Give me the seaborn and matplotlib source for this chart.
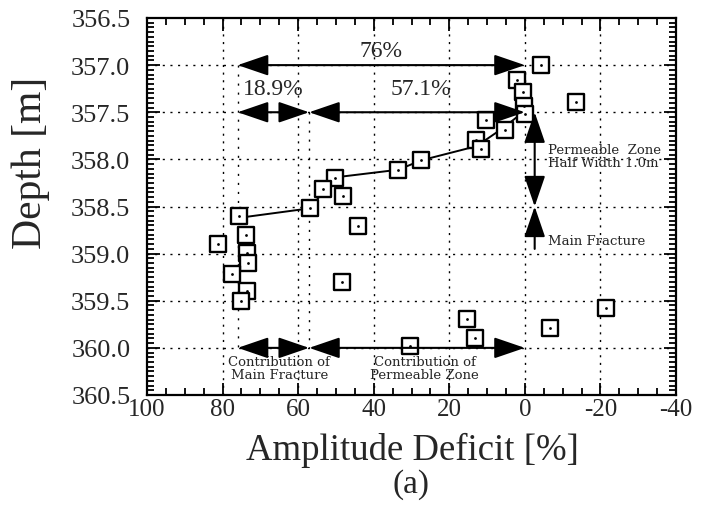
import numpy as np
import pandas as pd
import matplotlib
matplotlib.use("Agg")
import matplotlib.pyplot as plt
import seaborn as sns
from matplotlib.ticker import MultipleLocator

# ---- data ----
amp = [-4.2, 2.2, 0.5, 0.2, 0.0, -13.6, 10.2, 5.3, 12.8, 11.5, 27.4, 33.5,
       50.2, 53.5, 48.1, 44.1, 56.9, 75.6, 73.8, 81.1, 73.5, 73.2, 77.4,
       73.5, 75.0, 48.5, 30.5, 15.2, 13.3, -6.6, -21.4]
depth = [357.0, 357.16, 357.28, 357.43, 357.52, 357.39, 357.58, 357.69,
         357.79, 357.89, 358.01, 358.11, 358.2, 358.31, 358.39, 358.71,
         358.52, 358.6, 358.8, 358.9, 358.99, 359.1, 359.22, 359.4, 359.5,
         359.3, 359.98, 359.69, 359.89, 359.79, 359.58]
fit_amp = [75.6, 57.0, 50.0, 33.5, 27.4, 12.8, 5.5, -0.4]
fit_depth = [358.62, 358.52, 358.19, 358.11, 358.01, 357.86, 357.66, 357.47]

xticks = [100, 80, 60, 40, 20, 0, -20, -40]
yticks = [356.5, 357.0, 357.5, 358.0, 358.5, 359.0, 359.5, 360.0, 360.5]

total_pct = 76.0
main_pct = 57.1
pz_top, mf_depth = 357.5, 358.5

df = pd.DataFrame({"amp": amp, "depth": depth})
fit = pd.DataFrame({"amp": fit_amp, "depth": fit_depth})

sns.set_style("ticks")
plt.rcParams["font.family"] = ["Liberation Serif", "DejaVu Serif"]

fig = plt.figure(figsize=(7.11, 5.10), dpi=100)
ax = fig.add_axes([147/711, 1-396/510, (676-147)/711, (396-19)/510])

# grid
for xv in xticks[1:-1]:
    ax.axvline(xv, color="black", lw=1.0, ls=(0, (1.5, 4)), zorder=1)
for yv in yticks[1:-1]:
    ax.axhline(yv, color="black", lw=1.0, ls=(0, (1.5, 4)), zorder=1)
ax.plot([total_pct, total_pct], [357.0, 360.0], color="black", lw=1.0, ls=(0, (1.5, 5)), zorder=1)
ax.plot([main_pct, main_pct], [357.5, 360.0], color="black", lw=1.0, ls=(0, (1.5, 5)), zorder=1)

sns.lineplot(data=fit, x="amp", y="depth", sort=False, color="black", lw=1.4, ax=ax, zorder=3)
sns.scatterplot(data=df, x="amp", y="depth", marker="s", s=125, ax=ax,
                linewidth=1.7, edgecolor="black", zorder=4)
ax.collections[-1].set_facecolor("white")
sns.scatterplot(data=df, x="amp", y="depth", marker="o", s=4, color="black",
                linewidth=0, ax=ax, zorder=5)

def arrow(x0, y0, x1, y1, style="<|-|>"):
    ax.annotate("", xy=(x1, y1), xytext=(x0, y0),
                arrowprops=dict(arrowstyle=style + ",head_length=1.9,head_width=0.65",
                                mutation_scale=10, color="black", lw=1.5,
                                shrinkA=0, shrinkB=0), zorder=6)

arrow(total_pct, 357.0, 0, 357.0)
arrow(total_pct, 357.5, main_pct, 357.5)
arrow(main_pct, 357.5, 0, 357.5)
arrow(total_pct, 360.0, main_pct, 360.0)
arrow(main_pct, 360.0, 0, 360.0)
arrow(-2.6, pz_top, -2.6, mf_depth)
arrow(-2.6, 358.95, -2.6, mf_depth, style="-|>")

ax.text(38, 356.84, "76%", fontsize=17, ha="center", va="center")
ax.text(66.5, 357.25, "18.9%", fontsize=17, ha="center", va="center")
ax.text(27.5, 357.25, "57.1%", fontsize=17, ha="center", va="center")
sfont = dict(fontsize=9.5, family=["DejaVu Serif"])
ax.text(65.0, 360.21, "Contribution of\nMain Fracture", ha="center", va="center",
        linespacing=1.0, **sfont)
ax.text(26.5, 360.21, "Contribution of\nPermeable Zone", ha="center", va="center",
        linespacing=1.0, **sfont)
ax.text(-6.0, 357.96, "Permeable  Zone\nHalf Width 1.0m", ha="left", va="center",
        linespacing=1.0, **sfont)
ax.text(-6.0, 358.86, "Main Fracture", ha="left", va="center", **sfont)

ax.set_xlim(100, -40)
ax.set_ylim(360.5, 356.5)
ax.set_xticks(xticks)
ax.set_xticklabels([str(v) for v in xticks])
ax.set_yticks(yticks)
ax.set_yticklabels([f"{v:.1f}" for v in yticks])
ax.xaxis.set_minor_locator(MultipleLocator(5))
ax.yaxis.set_minor_locator(MultipleLocator(0.05))
ax.tick_params(which="both", direction="in", top=True, right=True, width=1.3, color="black")
ax.tick_params(which="major", length=9)
ax.tick_params(which="minor", length=5)
ax.tick_params(axis="y", which="major", labelsize=19, pad=12)
ax.tick_params(axis="x", which="major", labelsize=18, pad=2)
for s in ax.spines.values():
    s.set_linewidth(1.6)
    s.set_color("black")

ax.set_xlabel("")
ax.set_ylabel("")
fig.text(412/711, 1-450/510, "Amplitude Deficit [%]", fontsize=26.5, ha="center", va="center")
fig.text(31/711, 1-163/510, "Depth [m]", fontsize=30, ha="center", va="center", rotation=90)
fig.text(411/711, 1-485/510, "(a)", fontsize=24, ha="center", va="center")

fig.savefig("out.png", dpi=100)
